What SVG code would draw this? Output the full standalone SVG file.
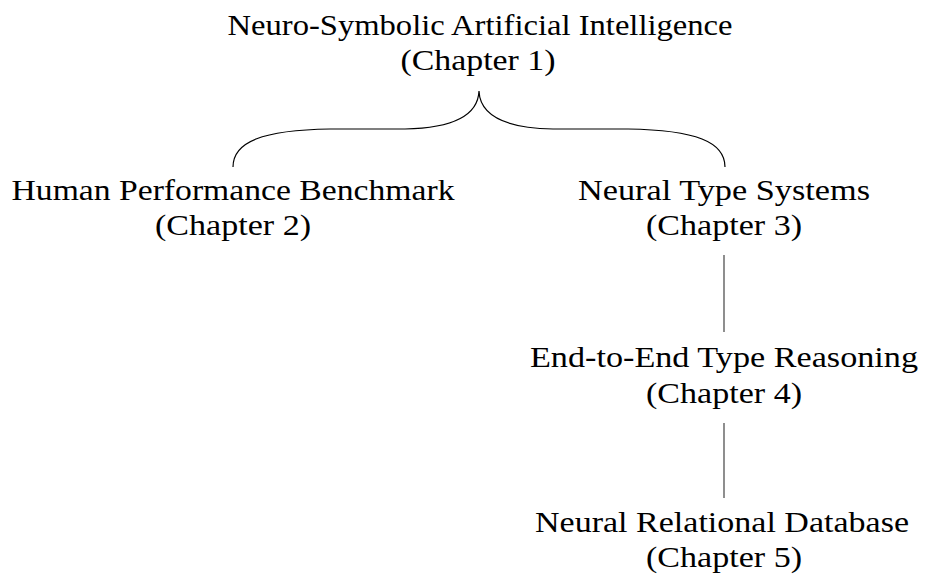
<svg xmlns="http://www.w3.org/2000/svg" width="925" height="581" viewBox="0 0 925 581">
<style>
text{font-family:"Liberation Serif","Times New Roman",serif;font-size:29px;fill:#000;text-anchor:middle}
.conn{stroke:#444;stroke-width:1.2;fill:none}
.brace{stroke:#000;stroke-width:1.2;fill:none}
</style>
<rect width="925" height="581" fill="#fff"/>
<g id="connectors">
<path class="brace" d="M233,167 C233,142 262,130 330,129 L405,129 C455,128 478,115 479,91 C480,115 503,128 553,129 L628,129 C696,130 725,142 725,167"/>
<line class="conn" x1="724" y1="255" x2="724" y2="332"/>
<line class="conn" x1="724" y1="423" x2="724" y2="498"/>
</g>
<g id="n1">
<text x="480" y="35" textLength="505" lengthAdjust="spacingAndGlyphs">Neuro-Symbolic Artificial Intelligence</text>
<text x="478" y="70" textLength="155" lengthAdjust="spacingAndGlyphs">(Chapter 1)</text>
</g>
<g id="n2">
<text x="233" y="200" textLength="443" lengthAdjust="spacingAndGlyphs">Human Performance Benchmark</text>
<text x="233" y="235" textLength="156" lengthAdjust="spacingAndGlyphs">(Chapter 2)</text>
</g>
<g id="n3">
<text x="724" y="200" textLength="292" lengthAdjust="spacingAndGlyphs">Neural Type Systems</text>
<text x="724" y="235" textLength="156" lengthAdjust="spacingAndGlyphs">(Chapter 3)</text>
</g>
<g id="n4">
<text x="724" y="367" textLength="388" lengthAdjust="spacingAndGlyphs">End-to-End Type Reasoning</text>
<text x="724" y="403" textLength="156" lengthAdjust="spacingAndGlyphs">(Chapter 4)</text>
</g>
<g id="n5">
<text x="722" y="532" textLength="374" lengthAdjust="spacingAndGlyphs">Neural Relational Database</text>
<text x="724" y="567" textLength="156" lengthAdjust="spacingAndGlyphs">(Chapter 5)</text>
</g>
</svg>
